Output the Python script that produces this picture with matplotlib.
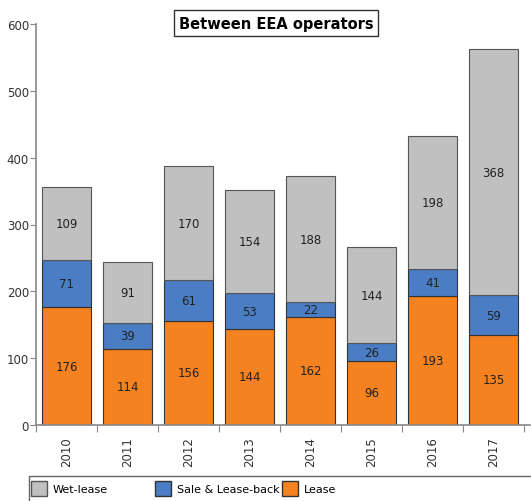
import matplotlib.pyplot as plt
import numpy as np
from matplotlib.patches import Patch, Rectangle

years = ["2010", "2011", "2012", "2013", "2014", "2015", "2016", "2017"]
lease = [176, 114, 156, 144, 162, 96, 193, 135]
sale_leaseback = [71, 39, 61, 53, 22, 26, 41, 59]
wet_lease = [109, 91, 170, 154, 188, 144, 198, 368]
legend_labels = ["Wet-lease", "Sale & Lease-back", "Lease"]

c_wet = "#c0c0c0"
c_sale = "#4a7dc4"
c_lease = "#f58220"

fig = plt.figure(figsize=(5.31, 5.02), dpi=100)
ax = fig.add_axes([36 / 531, 1 - 426 / 502, 488 / 531, 401 / 502])

x = np.arange(len(years))
w = 0.8
bottom2 = np.array(lease)
bottom3 = bottom2 + np.array(sale_leaseback)
b1 = ax.bar(x, lease, w, color=c_lease, edgecolor="#333333", linewidth=0.8)
b2 = ax.bar(x, sale_leaseback, w, bottom=bottom2, color=c_sale, edgecolor="#333333", linewidth=0.8)
b3 = ax.bar(x, wet_lease, w, bottom=bottom3, color=c_wet, edgecolor="#555555", linewidth=0.8)

for vals, bots in [(lease, np.zeros(len(x))), (sale_leaseback, bottom2), (wet_lease, bottom3)]:
    for i, v in enumerate(vals):
        ax.text(x[i], bots[i] + v / 2, str(v), ha="center", va="center", fontsize=8.5, color="#222222")

ax.set_xlim(-0.5, 7.5)
ax.set_ylim(0, 600)
ax.set_yticks(range(0, 601, 100))
ax.tick_params(axis="y", labelsize=8.5, length=4, color="#888888", pad=1, labelcolor="#333333")

# ticks between categories, labels at centres
ax.set_xticks(np.arange(-0.5, 8, 1))
ax.set_xticklabels([])
ax.tick_params(axis="x", which="major", length=5, color="#888888")
ax.set_xticks(x, minor=True)
ax.set_xticklabels(years, minor=True, rotation=90, fontsize=8.5, color="#333333")
ax.tick_params(axis="x", which="minor", length=0, pad=8)

for s in ["top", "right"]:
    ax.spines[s].set_visible(False)
for s in ["left", "bottom"]:
    ax.spines[s].set_color("#888888")
    ax.spines[s].set_linewidth(1.2)
ax.spines["bottom"].set_bounds(-0.5, 7.6)

fig.text(276 / 531, 1 - 24 / 502, "Between EEA operators", ha="center", va="center",
         fontsize=10.5, fontweight="bold",
         bbox=dict(facecolor="white", edgecolor="#333333", boxstyle="square,pad=0.35", linewidth=1))

# legend frame running off the right edge
fig.patches.append(Rectangle((29 / 531, -0.01), 0.99, 1 - 477 / 502 + 0.01, transform=fig.transFigure,
                             facecolor="white", edgecolor="#666666", linewidth=1))
handles = [Patch(facecolor=c_wet, edgecolor="#555555"),
           Patch(facecolor=c_sale, edgecolor="#333333"),
           Patch(facecolor=c_lease, edgecolor="#333333")]
for h, lab, xp in zip(handles, legend_labels, [31, 155, 282]):
    fig.legend([h], [lab], loc="center left", bbox_to_anchor=(xp / 531 - 0.004, 1 - 489 / 502),
               fontsize=8, frameon=False, handlelength=1.4, handleheight=1.7,
               handletextpad=0.55, borderaxespad=0, borderpad=0.2)

fig.savefig("out.png", dpi=100)
